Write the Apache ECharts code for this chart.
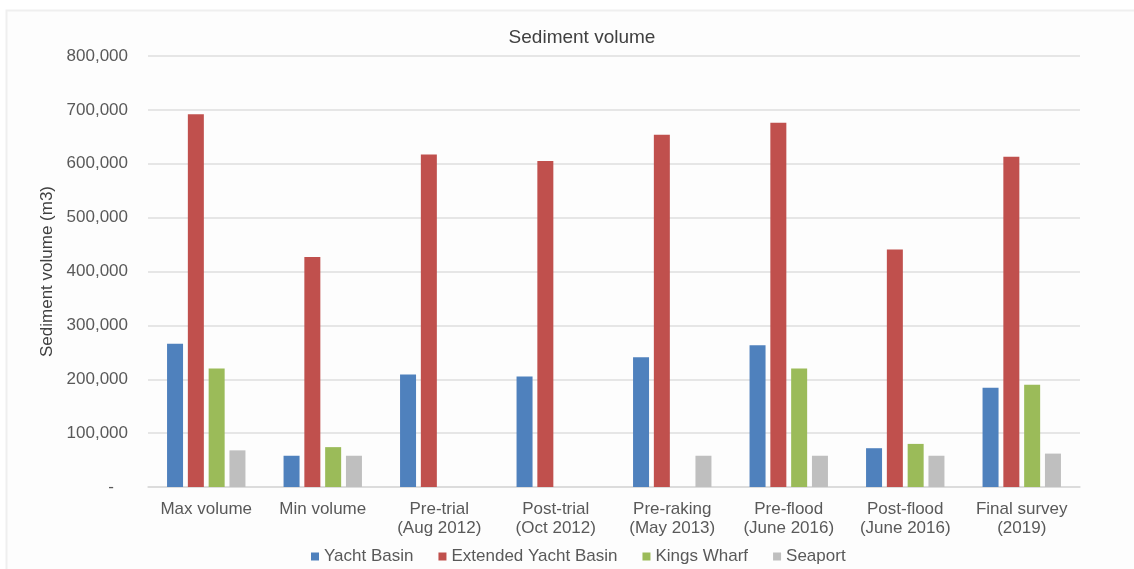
<!DOCTYPE html>
<html>
<head>
<meta charset="utf-8">
<title>Sediment volume</title>
<script src="https://cdn.jsdelivr.net/npm/echarts@6/dist/echarts.min.js"></script>
<style>
  html, body { margin: 0; padding: 0; background: #ffffff; }
  #chart { width: 1134px; height: 569px; }
</style>
</head>
<body>
<div id="chart"></div>
<script>
// Survey stages along the x axis
const categories = [
  'Max volume',
  'Min volume',
  'Pre-trial\n(Aug 2012)',
  'Post-trial\n(Oct 2012)',
  'Pre-raking\n(May 2013)',
  'Pre-flood\n(June 2016)',
  'Post-flood\n(June 2016)',
  'Final survey\n(2019)'
];

// Sediment volume (m3) per area; null where no survey value exists
const yachtBasin         = [266000,  58000, 209000, 205000, 241000, 263000,  72000, 184000];
const extendedYachtBasin = [692000, 427000, 617000, 605000, 654000, 676000, 441000, 613000];
const kingsWharf         = [220000,  74000,   null,   null,   null, 220000,  80000, 190000];
const seaport            = [ 68000,  58000,   null,   null,  58000,  58000,  58000,  62000];

const yTicks = [0, 100000, 200000, 300000, 400000, 500000, 600000, 700000, 800000];

const FONT = '"Liberation Sans", Arial, Helvetica, sans-serif';
const LABEL_COLOR = '#595959';

const chart = echarts.init(document.getElementById('chart'), null, { renderer: 'canvas' });

function bar(name, data, color) {
  return {
    name: name,
    type: 'bar',
    data: data,
    barWidth: 16,
    barGap: '30%',
    itemStyle: { color: color },
    emphasis: { disabled: true }
  };
}

chart.setOption({
  animation: false,
  backgroundColor: '#ffffff',
  graphic: [{
    type: 'rect',
    silent: true,
    z: -10,
    shape: { x: 6.5, y: 10.5, width: 1140, height: 580 },
    style: { fill: '#fdfdfd', stroke: '#efefef', lineWidth: 2 }
  }],
  title: {
    text: 'Sediment volume',
    left: 577,
    textAlign: 'center',
    top: 23,
    textStyle: { fontFamily: FONT, fontSize: 19, fontWeight: 'normal', color: '#404040' }
  },
  legend: {
    left: 306,
    top: 543,
    icon: 'rect',
    itemWidth: 8,
    itemHeight: 8,
    itemGap: 25,
    textStyle: { fontFamily: FONT, fontSize: 17, color: LABEL_COLOR },
    data: ['Yacht Basin', 'Extended Yacht Basin', 'Kings Wharf', 'Seaport']
  },
  grid: { left: 148, right: 54, top: 56, bottom: 82 },
  xAxis: {
    type: 'category',
    data: categories,
    axisTick: { show: false },
    axisLine: { lineStyle: { color: '#d9d9d9', width: 1.5 } },
    axisLabel: {
      interval: 0,
      margin: 13,
      fontFamily: FONT,
      fontSize: 17,
      lineHeight: 19,
      color: LABEL_COLOR
    }
  },
  yAxis: {
    type: 'value',
    min: yTicks[0],
    max: yTicks[yTicks.length - 1],
    interval: yTicks[1] - yTicks[0],
    name: 'Sediment volume (m3)',
    nameLocation: 'middle',
    nameGap: 92,
    nameTextStyle: { fontFamily: FONT, fontSize: 17, color: '#404040' },
    axisLine: { show: false },
    axisTick: { show: false },
    splitLine: { lineStyle: { color: '#dedede', width: 1.5 } },
    axisLabel: {
      margin: 20,
      fontFamily: FONT,
      fontSize: 17,
      color: LABEL_COLOR,
      formatter: function (v) {
        return v === 0 ? '-   ' : v.toLocaleString('en-US');
      }
    }
  },
  series: [
    bar('Yacht Basin', yachtBasin, '#4f81bd'),
    bar('Extended Yacht Basin', extendedYachtBasin, '#c0504d'),
    bar('Kings Wharf', kingsWharf, '#9bbb59'),
    bar('Seaport', seaport, '#bfbfbf')
  ]
});
</script>
</body>
</html>
